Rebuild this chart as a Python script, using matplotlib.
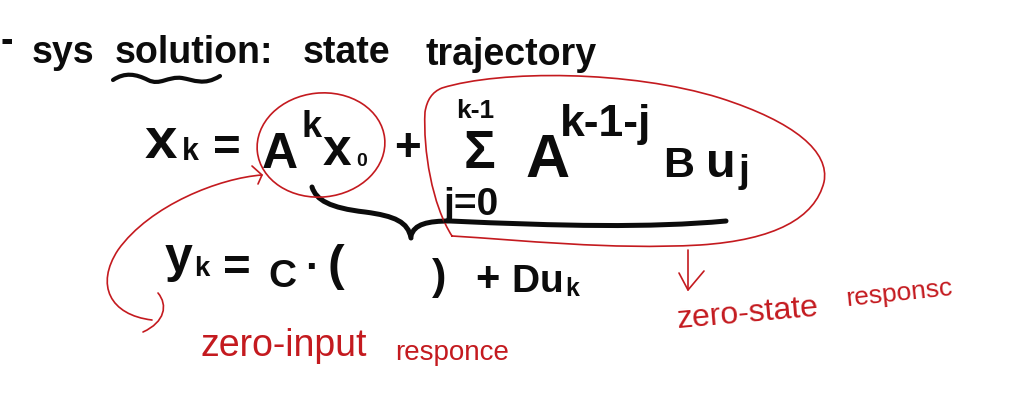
import numpy as np
import matplotlib.pyplot as plt
from matplotlib.path import Path
from matplotlib.patches import PathPatch, Ellipse

"""
Notes de pissarra: solucio del sistema discret (trajectoria d'estat)
"""

# --- textos -------------------------------------------------------------
header_words = ["-", "sys", "solution:", "state", "trajectory"]
state_terms = ["x", "k", "=", "A", "k", "x", "0", "+",
               "\u03a3", "k-1", "j=0", "A", "k-1-j", "B", "u", "j"]
output_terms = ["y", "k", "=", "C", "\u00b7", "(", ")", "+", "D", "u", "k"]
note_words = ["zero-input", "responce", "zero-state", "responsc"]

# --- traços a ma (coordenades en pixels de la pissarra) -------------------
underline_pts = [(113, 80), (125, 72), (136, 74), (148, 80),
                 (160, 86), (168, 76), (182, 78),
                 (194, 80), (204, 86), (220, 76)]
brace_left_pts = [(312, 187), (316, 200), (330, 208), (365, 212),
                  (395, 216), (408, 222), (411, 238)]
brace_right_pts = [(411, 236), (414, 224), (428, 221), (450, 221),
                   (560, 226), (650, 228), (726, 221)]
blob_pts = [(452, 236), (432, 205), (423, 150), (425, 112),
            (427, 100), (432, 92), (442, 88),
            (500, 70), (630, 70), (720, 98),
            (795, 122), (830, 152), (824, 182),
            (815, 218), (775, 240), (700, 245),
            (610, 250), (520, 240), (452, 236)]
input_arrow_pts = [(262, 175), (220, 178), (150, 205), (118, 250),
                   (95, 285), (110, 315), (152, 320)]
input_hook_pts = [(158, 293), (168, 305), (165, 322), (143, 332)]
input_head_pts = [(252, 166), (262, 175), (258, 184)]
state_arrow_pts = [(688, 250), (688, 290)]
state_head_pts = [(679, 273), (688, 290), (704, 271)]

ink = "#0c0c0c"
red = "#c41a1f"
fam = ["Liberation Sans", "DejaVu Sans"]

fig = plt.figure(figsize=(10.13, 4.19), dpi=100)
ax = fig.add_axes([0, 0, 1, 1])
ax.set_xlim(0, 1013)
ax.set_ylim(419, 0)
ax.axis("off")


def escriu(txt, x, y, mida, color=ink, ha="left", pes="bold", rot=0):
    ax.text(x, y, txt, fontsize=mida, color=color, ha=ha, va="baseline",
            family=fam, fontweight=pes, rotation=rot, rotation_mode="anchor")


def corba(punts, color, lw):
    # punts: inici + triplets de control cubics
    codes = [Path.MOVETO] + [Path.CURVE4] * (len(punts) - 1)
    ax.add_patch(PathPatch(Path(punts, codes), fill=False, edgecolor=color,
                           lw=lw, capstyle="round", joinstyle="round"))


def linia(punts, color, lw):
    xs, ys = zip(*punts)
    ax.plot(xs, ys, color=color, lw=lw, solid_capstyle="round")


# capcalera
header_lay = [(0, 52, 27), (32, 63, 27), (115, 63, 27), (303, 63, 27), (425, 65, 27)]
for txt, (x, y, m) in zip(header_words, header_lay):
    escriu(txt, x, y, m)
corba(underline_pts, ink, 3.0)

# x_k = A^k x_0 + sum A^(k-1-j) B u_j
state_lay = [(145, 158, 42, "left"), (182, 160, 22, "left"), (227, 161, 34, "center"),
             (262, 168, 36, "left"), (302, 137, 26, "left"), (323, 165, 37, "left"),
             (356, 166, 14, "left"), (407, 161, 33, "center"),
             (479, 168, 38, "center"), (475, 118, 19, "center"), (471, 215, 28, "center"),
             (525, 177, 44, "left"), (560, 136, 32, "left"), (663, 177, 31, "left"),
             (706, 177, 35, "left"), (739, 182, 28, "left")]
for txt, (x, y, m, ha) in zip(state_terms, state_lay):
    escriu(txt, x, y, m, ha=ha)

# y_k = C.( ... ) + D u_k
output_lay = [(165, 272, 36, "left"), (194, 276, 20, "left"), (237, 281, 34, "center"),
              (268, 287, 28, "left"), (312, 280, 30, "center"), (327, 280, 36, "left"),
              (432, 289, 31, "left"), (487, 291, 30, "center"), (511, 292, 28, "left"),
              (540, 292, 28, "left"), (565, 296, 18, "left")]
for txt, (x, y, m, ha) in zip(output_terms, output_lay):
    escriu(txt, x, y, m, ha=ha)

# clau negra sota x_0 ... u_j
corba(brace_left_pts, ink, 3.6)
corba(brace_right_pts, ink, 3.6)

# anotacions en vermell
ax.add_patch(Ellipse((321, 145), 128, 104, angle=-6, fill=False, edgecolor=red, lw=1.2))
corba(blob_pts, red, 1.2)
corba(input_arrow_pts, red, 1.2)
corba(input_hook_pts, red, 1.2)
linia(input_head_pts, red, 1.2)
linia(state_arrow_pts, red, 1.2)
linia(state_head_pts, red, 1.2)

note_lay = [(200, 356, 27, 0), (395, 360, 20, 0), (678, 328, 23, 5), (847, 306, 19, 6)]
for txt, (x, y, m, r) in zip(note_words, note_lay):
    escriu(txt, x, y, m, color=red, pes="normal", rot=r)

plt.savefig("out.png", dpi=100)
plt.close()
